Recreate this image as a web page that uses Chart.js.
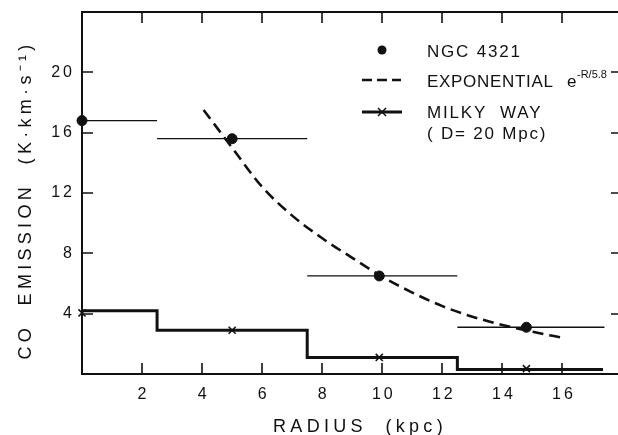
<!DOCTYPE html>
<html>
<head>
<meta charset="utf-8">
<script src="https://cdn.jsdelivr.net/npm/chart.js@4/dist/chart.umd.min.js"></script>
<style>
  html, body { margin: 0; padding: 0; background: #fff; }
  #wrap { width: 618px; height: 435px; }
</style>
</head>
<body>
<div id="wrap"><canvas id="mycanvas"></canvas></div>
<script>
// NGC 4321 radial CO points with their radial bin widths
var ngcR  = [0, 5, 9.9, 14.8];
var ngcCO = [16.8, 15.6, 6.5, 3.1];
var ngcLo = [0, 2.5, 7.5, 12.5];
var ngcHi = [2.5, 7.5, 12.5, 17.4];

// dashed exponential curve
var expR  = [4.05, 5, 6, 7, 8, 9, 10, 11, 12, 13, 14, 15, 16];
var expCO = [17.5, 15.0, 12.4, 10.5, 9.0, 7.7, 6.45, 5.4, 4.5, 3.8, 3.25, 2.8, 2.4];

// Milky Way (D = 20 Mpc) step profile
var mwEdges = [0, 2.5, 7.5, 12.5, 17.35];
var mwLevel = [4.2, 2.9, 1.1, 0.3];
var mwMarkR  = [0, 5, 9.9, 14.8];
var mwMarkCO = [4.05, 2.9, 1.1, 0.35];

var xTicks = [2, 4, 6, 8, 10, 12, 14, 16];
var yTicks = [4, 8, 12, 16, 20];

var ink = '#111';
var fontFam = '"Liberation Sans", Arial, sans-serif';

var ngcPts = [];
for (var i in ngcR) ngcPts.push({x: ngcR[i], y: ngcCO[i]});

var ngcBars = [];
for (var i = 0; i < ngcLo.length; i++) {
  ngcBars.push({x: ngcLo[i], y: ngcCO[i]});
  ngcBars.push({x: ngcHi[i], y: ngcCO[i]});
  ngcBars.push({x: ngcHi[i], y: null});
}

var expPts = [];
for (var i in expR) expPts.push({x: expR[i], y: expCO[i]});

var mwPts = [];
for (var i = 0; i < mwEdges.length; i++) {
  mwPts.push({x: mwEdges[i], y: mwLevel[Math.min(i, mwLevel.length - 1)]});
}

var mwMarks = [];
for (var i in mwMarkR) mwMarks.push({x: mwMarkR[i], y: mwMarkCO[i]});

var framePlugin = {
  id: 'frame',
  beforeDraw: function(chart) {
    chart.ctx.letterSpacing = '3px';
  },
  afterDraw: function(chart) {
    var ctx = chart.ctx;
    var a = chart.chartArea;
    var xs = chart.scales.x, ys = chart.scales.y;
    var edge = chart.width;
    ctx.save();
    ctx.strokeStyle = ink;
    // frame runs off the right edge of the scan, so no right side
    ctx.lineWidth = 2;
    ctx.beginPath();
    ctx.moveTo(edge, a.top); ctx.lineTo(a.left, a.top);
    ctx.lineTo(a.left, a.bottom); ctx.lineTo(edge, a.bottom);
    ctx.stroke();

    // inward tick marks on all four sides
    ctx.lineWidth = 1.6;
    ctx.beginPath();
    xTicks.forEach(function(v) {
      var px = Math.round(xs.getPixelForValue(v));
      ctx.moveTo(px, a.bottom); ctx.lineTo(px, a.bottom - 11);
      ctx.moveTo(px, a.top); ctx.lineTo(px, a.top + 11);
    });
    yTicks.forEach(function(v) {
      var py = Math.round(ys.getPixelForValue(v));
      ctx.moveTo(a.left, py); ctx.lineTo(a.left + 11, py);
      ctx.moveTo(edge, py); ctx.lineTo(edge - 7, py);
    });
    ctx.stroke();

    // axis titles
    ctx.fillStyle = ink;
    ctx.font = '18px ' + fontFam;
    ctx.letterSpacing = '4.3px';
    ctx.textAlign = 'center';
    ctx.textBaseline = 'alphabetic';
    ctx.fillText('RADIUS  (kpc)', 360, 432);
    ctx.save();
    ctx.translate(31, 200);
    ctx.rotate(-Math.PI / 2);
    ctx.fillText('CO  EMISSION  (K\u00b7km\u00b7s\u207b\u00b9)', 0, 0);
    ctx.restore();

    // legend
    ctx.letterSpacing = '1.8px';
    ctx.textAlign = 'left';
    ctx.font = '17px ' + fontFam;
    ctx.fillText('NGC 4321', 427, 57);
    ctx.letterSpacing = '0.7px';
    ctx.fillText('EXPONENTIAL', 427, 87);
    ctx.letterSpacing = '0px';
    ctx.fillText('e', 567, 87);
    ctx.font = '11px ' + fontFam;
    ctx.fillText('-R/5.8', 577, 78);
    ctx.font = '17px ' + fontFam;
    ctx.letterSpacing = '1.8px';
    ctx.fillText('MILKY  WAY', 427, 118);
    ctx.fillText('( D= 20 Mpc)', 427, 139);

    ctx.beginPath();
    ctx.arc(382, 50, 4.5, 0, Math.PI * 2);
    ctx.fill();

    ctx.lineWidth = 2.5;
    ctx.setLineDash([10, 5]);
    ctx.beginPath();
    ctx.moveTo(362, 80); ctx.lineTo(401, 80);
    ctx.stroke();
    ctx.setLineDash([]);

    ctx.lineWidth = 3;
    ctx.beginPath();
    ctx.moveTo(362, 112); ctx.lineTo(402, 112);
    ctx.stroke();
    ctx.lineWidth = 1.5;
    ctx.beginPath();
    ctx.moveTo(378, 108); ctx.lineTo(386, 116);
    ctx.moveTo(386, 108); ctx.lineTo(378, 116);
    ctx.stroke();
    ctx.restore();
  }
};

var ctx = document.getElementById('mycanvas');
var chart = new Chart(ctx, {
  type: 'scatter',
  data: {
    datasets: [
      {
        label: 'NGC 4321 bins',
        type: 'line',
        data: ngcBars,
        borderColor: ink,
        borderWidth: 1.3,
        pointRadius: 0,
        spanGaps: false,
        clip: false,
        order: 4
      },
      {
        label: 'Exponential',
        type: 'line',
        data: expPts,
        borderColor: ink,
        borderWidth: 2.6,
        borderDash: [11, 6],
        pointRadius: 0,
        cubicInterpolationMode: 'monotone',
        order: 3
      },
      {
        label: 'Milky Way',
        type: 'line',
        data: mwPts,
        borderColor: ink,
        borderWidth: 3,
        pointRadius: 0,
        stepped: true,
        clip: false,
        order: 2
      },
      {
        label: 'Milky Way points',
        data: mwMarks,
        pointStyle: 'crossRot',
        pointRadius: 5,
        borderColor: ink,
        borderWidth: 1.6,
        clip: false,
        order: 1
      },
      {
        label: 'NGC 4321',
        data: ngcPts,
        pointStyle: 'circle',
        pointRadius: 5,
        backgroundColor: ink,
        borderColor: ink,
        clip: false,
        order: 0
      }
    ]
  },
  options: {
    responsive: true,
    maintainAspectRatio: false,
    animation: false,
    layout: { padding: { left: 0, right: 0, top: 12, bottom: 0 } },
    plugins: {
      legend: { display: false },
      tooltip: { enabled: false }
    },
    scales: {
      x: {
        type: 'linear',
        min: 0,
        max: 17.63,
        grid: { display: false, drawTicks: false },
        border: { display: false },
        afterBuildTicks: function(s) { s.ticks = xTicks.map(function(v) { return {value: v}; }); },
        afterFit: function(s) { s.height = 61; s.paddingLeft = 0; s.paddingRight = 0; },
        ticks: {
          color: ink,
          padding: 11,
          labelOffset: 1.5,
          font: { family: fontFam, size: 16 }
        }
      },
      y: {
        type: 'linear',
        min: 0,
        max: 24,
        grid: { display: false, drawTicks: false },
        border: { display: false },
        afterBuildTicks: function(s) { s.ticks = yTicks.map(function(v) { return {value: v}; }); },
        afterFit: function(s) { s.width = 82; s.paddingTop = 0; s.paddingBottom = 0; },
        ticks: {
          color: ink,
          padding: 7,
          font: { family: fontFam, size: 16 }
        }
      }
    }
  },
  plugins: [framePlugin]
});
</script>
</body>
</html>
